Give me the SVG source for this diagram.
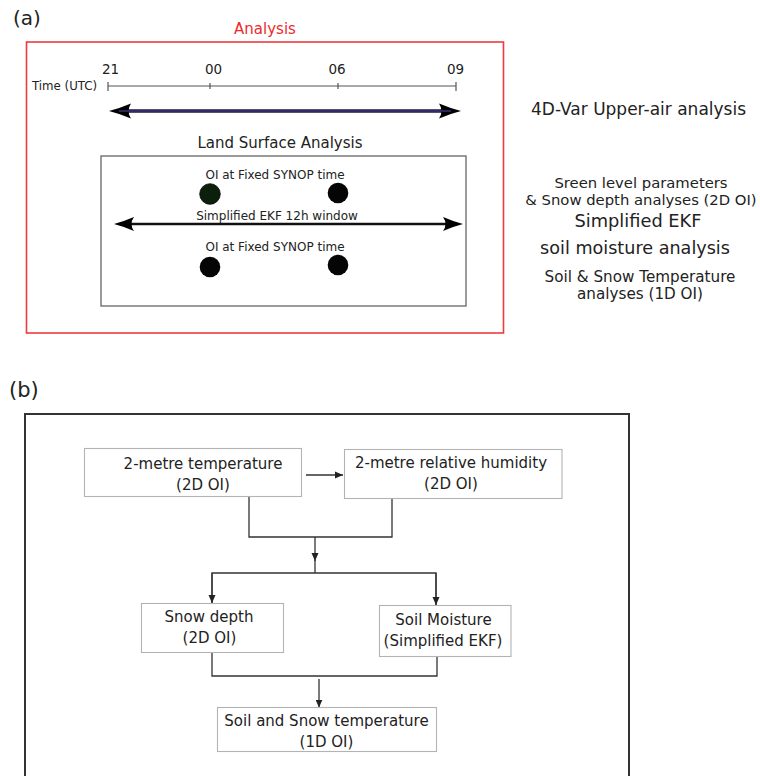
<svg xmlns="http://www.w3.org/2000/svg" width="760" height="776" viewBox="0 0 760 776">
<style>
text{font-family:"DejaVu Sans","Liberation Sans",sans-serif;fill:#222}
.c{text-anchor:middle}
.box{fill:#fff;stroke:#b3b3b3;stroke-width:1.1}
.con{fill:none;stroke:#333;stroke-width:1.3}
.t12{font-size:12px}
.t15{font-size:15px}
</style>
<defs>
<marker id="bigHead" viewBox="-14 -9 26 18" markerWidth="26" markerHeight="18" refX="0" refY="0" orient="auto-start-reverse" markerUnits="userSpaceOnUse">
<path d="M10,0 Q0,-2.5 -12,-7.5 Q-7,0 -12,7.5 Q0,2.5 10,0Z" fill="#000"/>
</marker>
<marker id="midHead" viewBox="-12 -8 22 16" markerWidth="22" markerHeight="16" refX="0" refY="0" orient="auto-start-reverse" markerUnits="userSpaceOnUse">
<path d="M9,0 Q0,-2.3 -11,-7 Q-6,0 -11,7 Q0,2.3 9,0Z" fill="#000"/>
</marker>
<marker id="tri" viewBox="0 -4 8 8" markerWidth="8" markerHeight="8" refX="8" refY="0" orient="auto" markerUnits="userSpaceOnUse">
<path d="M0,-3.5 L8,0 L0,3.5Z" fill="#222"/>
</marker>
</defs>

<g id="panel-a">
<text x="13" y="25" style="font-size:20px">(a)</text>
<g id="analysis-box">
<rect x="26.5" y="42" width="477" height="291" fill="none" stroke="#ef3b3b" stroke-width="1.6"/>
<text x="265" y="34" class="c t15" style="fill:#ee2a2a">Analysis</text>
</g>
<g id="timeline">
<text x="32" y="89.5" style="font-size:11.8px">Time (UTC)</text>
<line x1="108" y1="86" x2="456" y2="86" stroke="#555" stroke-width="1.2"/>
<path d="M108,82 V91 M210,83 V89 M338,83 V89 M456,82 V91" stroke="#555" stroke-width="1.2" fill="none"/>
<text x="110.5" y="74" class="c" style="font-size:13.5px">21</text>
<text x="213.5" y="74" class="c" style="font-size:13.5px">00</text>
<text x="337" y="74" class="c" style="font-size:13.5px">06</text>
<text x="455.5" y="74" class="c" style="font-size:13.5px">09</text>
</g>
<g id="upper-air-window">
<line x1="119" y1="111" x2="451" y2="111" stroke="#1c1540" stroke-width="3.4" marker-start="url(#bigHead)" marker-end="url(#bigHead)"/>
<line x1="119" y1="111" x2="451" y2="111" stroke="#3d2f72" stroke-width="1.6"/>
</g>
<g id="land-surface-box">
<text x="280" y="148" class="c t15">Land Surface Analysis</text>
<rect x="101" y="156" width="365" height="150" fill="none" stroke="#666" stroke-width="1.3"/>
<text x="275" y="179" class="c t12">OI at Fixed SYNOP time</text>
<circle cx="210" cy="194" r="10.3" fill="#0c1f0c" stroke="#050d05" stroke-width="0.8"/>
<circle cx="338" cy="193" r="10.3" fill="#050505"/>
<text x="277" y="220" class="c t12">Simplified EKF 12h window</text>
<line x1="123" y1="224" x2="454" y2="224" stroke="#111" stroke-width="2.6" marker-start="url(#midHead)" marker-end="url(#midHead)"/>
<text x="275" y="251" class="c t12">OI at Fixed SYNOP time</text>
<circle cx="210" cy="267" r="10.3" fill="#050505"/>
<circle cx="338" cy="265" r="10.3" fill="#050505"/>
</g>
<g id="legend">
<text x="638.5" y="115" class="c" style="font-size:17px">4D-Var Upper-air analysis</text>
<text x="641" y="187.5" class="c" style="font-size:14.8px">Sreen level parameters</text>
<text x="641" y="205" class="c" style="font-size:14.8px">&amp; Snow depth analyses (2D OI)</text>
<text x="638" y="226.5" class="c" style="font-size:17.8px">Simplified EKF</text>
<text x="635" y="254" class="c" style="font-size:17.6px">soil moisture analysis</text>
<text x="640" y="282" class="c" style="font-size:15.2px">Soil &amp; Snow Temperature</text>
<text x="640" y="299" class="c" style="font-size:15.2px">analyses (1D OI)</text>
</g>
</g>

<g id="panel-b">
<text x="9" y="397" style="font-size:21px">(b)</text>
<rect id="frame-b" x="25" y="414" width="604" height="400" fill="none" stroke="#333" stroke-width="2"/>

<g id="connectors">
<line x1="306" y1="475" x2="343" y2="475" class="con" marker-end="url(#tri)"/>
<path d="M249,497 V537 H392 V499" class="con"/>
<line x1="315" y1="537" x2="315" y2="561" class="con" marker-end="url(#tri)"/>
<line x1="315" y1="560" x2="315" y2="573" class="con"/>
<path d="M212,603 V573 H436 V605" class="con"/>
<line x1="212" y1="573" x2="212" y2="603" class="con" marker-end="url(#tri)"/>
<line x1="436" y1="573" x2="436" y2="605" class="con" marker-end="url(#tri)"/>
<path d="M212,653 V676 H437 V657" class="con"/>
<line x1="319" y1="679" x2="319" y2="707.5" class="con" marker-end="url(#tri)"/>
</g>

<g id="node-t2m">
<rect x="84.5" y="448.5" width="217" height="48" class="box"/>
<text x="203" y="469" class="c t15">2-metre temperature</text>
<text x="203" y="490" class="c t15">(2D OI)</text>
</g>
<g id="node-rh2m">
<rect x="344.5" y="449.5" width="217.5" height="49" class="box"/>
<text x="451" y="468" class="c t15">2-metre relative humidity</text>
<text x="451" y="489" class="c t15">(2D OI)</text>
</g>
<g id="node-snow">
<rect x="141.5" y="603.5" width="142" height="49" class="box"/>
<text x="209" y="622" class="c t15">Snow depth</text>
<text x="209.5" y="643" class="c t15">(2D OI)</text>
</g>
<g id="node-soilmoist">
<rect x="379.5" y="605.5" width="131.5" height="51" class="box"/>
<text x="443.5" y="624.5" class="c t15">Soil Moisture</text>
<text x="443" y="645.5" class="c t15">(Simplified EKF)</text>
</g>
<g id="node-soiltemp">
<rect x="217.5" y="707.5" width="219" height="44" class="box"/>
<text x="326.5" y="726" class="c t15">Soil and Snow temperature</text>
<text x="326.5" y="747" class="c t15">(1D OI)</text>
</g>
</g>
</svg>
